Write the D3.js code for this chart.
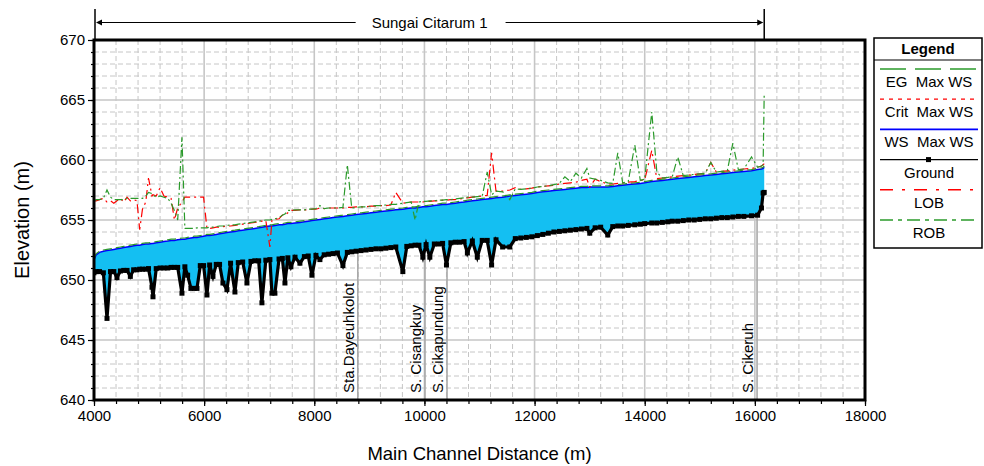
<!DOCTYPE html>
<html>
<head>
<meta charset="utf-8">
<script src="https://cdn.jsdelivr.net/npm/d3@7"></script>
<style>
  body { margin: 0; background: #fff; }
  svg { display: block; }
  text { font-family: Arial, "Liberation Sans", sans-serif; fill: #000; }
</style>
</head>
<body>
<svg id="chart" width="984" height="466"></svg>
<script>
// River stations (m) of the cross sections along Sungai Citarum, reach 1
const stations = [
  4000, 4040, 4100, 4170, 4236, 4300, 4360, 4417, 4480, 4540,
  4600, 4660, 4720, 4780, 4830, 4880, 4940, 4990, 5053, 5071,
  5130, 5200, 5270, 5340, 5400, 5460, 5520, 5597, 5650, 5700,
  5760, 5820, 5870, 5930, 5990, 6051, 6100, 6160, 6220, 6280,
  6341, 6414, 6480, 6559, 6620, 6700, 6777, 6850, 6920, 6990,
  7049, 7120, 7194, 7231, 7285, 7360, 7420, 7467, 7520, 7576,
  7650, 7739, 7820, 7890, 7957, 8030, 8102, 8180, 8260, 8340,
  8420, 8520, 8600, 8680, 8760, 8850, 8940, 9030, 9120, 9210,
  9300, 9390, 9480, 9608, 9680, 9760, 9830, 9900, 9971, 10030,
  10098, 10180, 10260, 10330, 10400, 10480, 10560, 10640, 10720, 10780,
  10870, 10960, 11050, 11140, 11220, 11300, 11420, 11550, 11650, 11750,
  11850, 11950, 12050, 12150, 12250, 12350, 12450, 12550, 12650, 12750,
  12850, 12950, 13002, 13100, 13200, 13329, 13420, 13511, 13600, 13700,
  13820, 13920, 14000, 14128, 14220, 14320, 14420, 14500, 14600, 14700,
  14800, 14900, 15000, 15100, 15200, 15300, 15400, 15500, 15600, 15700,
  15800, 15940, 16050, 16120, 16150, 16170
];

// Channel invert (Ground)
const ground = [
  650.6, 650.7, 650.7, 650.6, 646.8, 650.7, 650.7, 650.2, 650.75, 650.8,
  650.8, 650.3, 650.85, 650.85, 650.9, 650.9, 650.9, 650.95, 649.4, 648.6,
  650.95, 651.0, 651.0, 651.0, 651.05, 651.05, 651.05, 648.9, 651.1, 650.4,
  649.3, 649.3, 649.3, 651.2, 651.2, 648.75, 651.25, 650.3, 651.3, 651.3,
  649.75, 649.2, 651.4, 649.0, 651.45, 651.5, 649.75, 651.55, 651.6, 651.6,
  648.1, 651.65, 651.7, 648.9, 648.9, 651.75, 651.8, 649.75, 651.85, 651.1,
  651.9, 651.4, 651.95, 652.0, 650.4, 652.05, 651.7, 652.1, 652.15, 652.2,
  652.25, 651.2, 652.3, 652.35, 652.4, 652.45, 652.5, 652.55, 652.6, 652.6,
  652.65, 652.7, 652.75, 650.7, 652.8, 652.85, 652.9, 652.9, 651.9, 652.95,
  651.9, 653.0, 653.0, 653.05, 651.25, 653.1, 653.15, 653.15, 653.2, 652.25,
  653.25, 651.9, 653.3, 653.3, 651.25, 653.35, 652.75, 652.75, 653.45, 653.5,
  653.55, 653.6, 653.7, 653.8, 653.9, 654.0, 654.05, 654.1, 654.15, 654.2,
  654.25, 654.3, 653.9, 654.35, 654.4, 653.75, 654.45, 654.5, 654.5, 654.55,
  654.6, 654.65, 654.7, 654.75, 654.75, 654.8, 654.85, 654.9, 654.9, 654.95,
  655.0, 655.0, 655.05, 655.1, 655.1, 655.15, 655.2, 655.2, 655.25, 655.3,
  655.3, 655.35, 655.4, 656.0, 657.25, 657.3
];

// Water surface, Max WS profile
const wsMax = [
  651.7, 652.1, 652.3, 652.4, 652.45, 652.5, 652.55, 652.6, 652.65, 652.7,
  652.75, 652.8, 652.85, 652.9, 652.9, 652.95, 653.0, 653.0, 653.05, 653.05,
  653.1, 653.15, 653.2, 653.25, 653.3, 653.3, 653.35, 653.4, 653.4, 653.45,
  653.5, 653.55, 653.55, 653.6, 653.65, 653.7, 653.7, 653.75, 653.8, 653.85,
  653.9, 653.95, 654.0, 654.05, 654.1, 654.15, 654.2, 654.25, 654.3, 654.35,
  654.4, 654.45, 654.5, 654.5, 654.55, 654.6, 654.6, 654.65, 654.7, 654.7,
  654.75, 654.8, 654.85, 654.9, 654.95, 655.0, 655.05, 655.1, 655.15, 655.2,
  655.25, 655.3, 655.35, 655.4, 655.45, 655.5, 655.55, 655.6, 655.65, 655.7,
  655.75, 655.8, 655.85, 655.9, 655.95, 656.0, 656.0, 656.05, 656.1, 656.1,
  656.15, 656.2, 656.25, 656.3, 656.3, 656.35, 656.4, 656.45, 656.5, 656.55,
  656.6, 656.65, 656.7, 656.75, 656.8, 656.85, 656.9, 657.0, 657.05, 657.1,
  657.15, 657.2, 657.3, 657.35, 657.4, 657.45, 657.5, 657.55, 657.6, 657.65,
  657.7, 657.7, 657.75, 657.75, 657.75, 657.75, 657.8, 657.85, 657.9, 657.95,
  658.0, 658.05, 658.1, 658.2, 658.25, 658.3, 658.35, 658.4, 658.45, 658.5,
  658.55, 658.6, 658.65, 658.7, 658.75, 658.8, 658.85, 658.9, 658.95, 659.0,
  659.05, 659.1, 659.2, 659.25, 659.3, 659.4
];

// Energy grade, Max WS profile
const egMax = [
  651.8, 652.2, 652.4, 652.5, 652.55, 652.6, 652.65, 652.7, 652.75, 652.8,
  652.85, 652.9, 652.95, 653.0, 653.0, 653.05, 653.1, 653.1, 653.15, 653.15,
  653.2, 653.25, 653.3, 653.35, 653.4, 653.4, 653.45, 653.5, 653.5, 653.55,
  653.6, 653.65, 653.65, 653.7, 653.75, 653.8, 653.8, 653.85, 653.9, 653.95,
  654.0, 654.05, 654.1, 654.15, 654.2, 654.25, 654.3, 654.35, 654.4, 654.45,
  654.5, 654.55, 654.6, 654.6, 654.65, 654.7, 654.7, 654.75, 654.8, 654.8,
  654.85, 654.9, 654.95, 655.0, 655.05, 655.1, 655.15, 655.2, 655.25, 655.3,
  655.35, 655.4, 655.45, 655.5, 655.55, 655.6, 655.65, 655.7, 655.75, 655.8,
  655.85, 655.9, 655.95, 656.0, 656.05, 656.1, 656.1, 656.15, 656.2, 656.2,
  656.25, 656.3, 656.35, 656.4, 656.4, 656.45, 656.5, 656.55, 656.6, 656.65,
  656.7, 656.75, 656.8, 656.85, 656.9, 656.95, 657.0, 657.1, 657.15, 657.2,
  657.25, 657.3, 657.4, 657.45, 657.5, 657.55, 657.6, 657.65, 657.7, 657.75,
  657.8, 657.8, 657.85, 657.85, 657.85, 657.85, 657.9, 657.95, 658.0, 658.05,
  658.1, 658.15, 658.2, 658.3, 658.35, 658.4, 658.45, 658.5, 658.55, 658.6,
  658.65, 658.7, 658.75, 658.8, 658.85, 658.9, 658.95, 659.0, 659.05, 659.1,
  659.15, 659.2, 659.3, 659.35, 659.4, 659.5
];

// Critical water surface, Max WS profile
const critMax = [
  650.9, 651.0, 651.0, 651.0, 650.9, 651.1, 651.1, 651.1, 651.2, 651.2,
  651.2, 651.2, 651.3, 651.3, 651.3, 651.3, 651.4, 651.4, 651.3, 651.3,
  651.4, 651.4, 651.5, 651.5, 651.5, 651.5, 651.6, 651.5, 651.6, 651.5,
  651.5, 651.5, 651.5, 651.7, 651.7, 651.6, 651.8, 651.7, 651.8, 651.9,
  651.8, 651.8, 651.9, 651.9, 652.0, 652.0, 652.0, 652.1, 652.1, 652.2,
  652.1, 652.2, 652.3, 652.2, 652.2, 652.3, 652.3, 652.3, 652.4, 652.4,
  652.5, 652.5, 652.6, 652.6, 652.6, 652.7, 652.7, 652.8, 652.8, 652.9,
  652.9, 652.9, 653.0, 653.0, 653.1, 653.1, 653.2, 653.2, 653.3, 653.3,
  653.4, 653.4, 653.5, 653.3, 653.5, 653.6, 653.6, 653.6, 653.5, 653.7,
  653.6, 653.8, 653.8, 653.9, 653.7, 653.9, 654.0, 654.0, 654.1, 654.0,
  654.1, 654.0, 654.2, 654.2, 654.1, 654.3, 654.3, 654.4, 654.5, 654.5,
  654.6, 654.6, 654.7, 654.8, 654.9, 655.0, 655.0, 655.1, 655.1, 655.2,
  655.2, 655.3, 655.0, 655.3, 655.4, 655.0, 655.4, 655.5, 655.5, 655.6,
  655.6, 655.7, 655.7, 655.8, 655.8, 655.9, 655.9, 656.0, 656.0, 656.1,
  656.1, 656.2, 656.2, 656.3, 656.3, 656.4, 656.4, 656.5, 656.5, 656.6,
  656.6, 656.7, 656.7, 657.0, 657.8, 658.0
];

// Left overbank station elevation (LOB)
const lob = [
  656.6, 656.6, 656.7, 656.8, 656.5, 656.6, 656.4, 656.6, 656.8, 656.5,
  656.9, 656.6, 656.7, 656.6, 654.2, 655.9, 656.5, 658.5, 657.0, 657.1,
  657.0, 657.7, 657.0, 656.9, 656.8, 655.0, 656.0, 656.5, 656.9, 656.9,
  656.9, 656.9, 656.9, 656.9, 656.9, 654.3, 654.3, 654.35, 654.4, 654.4,
  654.45, 654.5, 654.5, 654.55, 654.6, 654.65, 654.7, 654.75, 654.8, 654.85,
  654.9, 654.95, 652.75, 655.0, 655.05, 655.1, 655.4, 655.4, 655.6, 655.8,
  655.8, 655.85, 655.85, 655.85, 655.9, 655.9, 656.0, 655.95, 656.0, 656.0,
  656.0, 656.0, 656.05, 656.05, 656.1, 656.1, 656.1, 656.15, 656.15, 656.2,
  656.2, 656.25, 657.3, 656.4, 656.45, 656.5, 656.5, 656.5, 656.5, 656.55,
  656.55, 656.6, 656.6, 656.65, 656.65, 656.7, 656.7, 656.75, 656.8, 656.85,
  656.9, 656.95, 657.0, 657.05, 660.6, 657.4, 657.4, 657.5, 657.7, 657.55,
  657.6, 657.65, 657.75, 657.8, 657.85, 657.9, 658.0, 658.05, 658.1, 658.15,
  658.3, 658.4, 657.75, 658.4, 658.2, 658.0, 658.0, 658.05, 658.1, 658.15,
  658.2, 658.3, 658.35, 660.8, 658.45, 658.5, 658.55, 658.6, 658.65, 658.7,
  658.75, 658.8, 658.85, 658.9, 659.8, 659.0, 659.05, 659.1, 659.15, 659.2,
  659.25, 659.3, 659.4, 659.5, 659.6, 659.7
];

// Right overbank station elevation (ROB)
const rob = [
  656.6, 656.7, 656.7, 656.8, 657.5, 656.9, 656.7, 656.7, 656.7, 656.7,
  656.8, 656.8, 656.8, 656.8, 656.8, 656.8, 657.0, 657.3, 657.2, 657.1,
  656.9, 657.0, 656.9, 656.8, 656.4, 655.8, 655.0, 661.9, 654.3, 654.3,
  654.3, 654.3, 654.35, 654.35, 654.35, 654.35, 654.4, 654.4, 654.45, 654.5,
  654.5, 654.55, 654.6, 654.6, 654.65, 654.7, 654.75, 654.8, 654.85, 654.9,
  654.95, 655.0, 655.0, 655.05, 655.1, 655.2, 655.4, 655.5, 655.8, 655.8,
  655.85, 655.85, 655.85, 655.9, 655.9, 655.95, 656.2, 655.95, 656.0, 656.0,
  656.0, 656.05, 659.6, 656.0, 656.05, 656.1, 656.1, 656.15, 656.2, 656.2,
  656.25, 656.3, 656.3, 656.4, 656.45, 656.5, 655.0, 656.5, 656.55, 656.55,
  656.6, 656.6, 656.65, 656.65, 656.7, 656.7, 656.75, 656.8, 656.85, 656.9,
  656.9, 656.95, 657.0, 659.0, 657.1, 657.4, 657.35, 656.7, 657.6, 657.55,
  657.6, 657.65, 657.75, 657.8, 657.85, 657.95, 658.05, 658.6, 658.2, 658.9,
  658.5, 659.3, 658.5, 658.4, 658.3, 658.1, 658.05, 660.6, 658.1, 658.2,
  661.25, 658.3, 658.4, 664.0, 659.0, 658.5, 658.55, 658.6, 660.25, 658.7,
  658.75, 658.8, 658.85, 658.9, 659.8, 659.0, 659.05, 659.1, 661.4, 659.2,
  659.25, 660.25, 659.4, 659.5, 659.6, 665.6
];

// Named structures / tributaries marked along the profile
const structureNames = ["Sta.Dayeuhkolot", "S. Cisangkuy", "S. Cikapundung", "S. Cikeruh"];
const structureStations = [8790, 10010, 10410, 16040];

// Axis ticks
const xTickValues = [4000, 6000, 8000, 10000, 12000, 14000, 16000, 18000];
const yTickValues = [640, 645, 650, 655, 660, 665, 670];

const reachName = "Sungai Citarum 1";
const xTitle = "Main Channel Distance (m)";
const yTitle = "Elevation (m)";
const legendLabels = ["EG  Max WS", "Crit  Max WS", "WS  Max WS", "Ground", "LOB", "ROB"];

// ---------------------------------------------------------------
const GREEN = "#2b9a2b", RED = "#ff0000", BLUE = "#0000ff", WATER = "#14bff2";
const svg = d3.select("#chart");
const x = d3.scaleLinear().domain([4000, 18000]).range([94, 865]);
const y = d3.scaleLinear().domain([640, 670]).range([400, 40]);
const [x0, x1] = x.range();
const [yB, yT] = y.range();

svg.append("defs").append("clipPath").attr("id", "plotClip")
  .append("rect").attr("x", x0).attr("y", yT).attr("width", x1 - x0).attr("height", yB - yT);

// Grid: dashed every 400 m / 1 m, solid every 2000 m / 5 m
const grid = svg.append("g");
const xGrid = d3.range(4400, 18000, 400);
const yGrid = d3.range(641, 670, 1);
grid.selectAll("line.gx").data(xGrid).join("line")
  .attr("x1", d => x(d)).attr("x2", d => x(d)).attr("y1", yT).attr("y2", yB)
  .attr("stroke", "#c6c6c6")
  .attr("stroke-width", d => d % 2000 === 0 ? 1.6 : 1)
  .attr("stroke-dasharray", d => d % 2000 === 0 ? null : "5,3");
grid.selectAll("line.gy").data(yGrid).join("line")
  .attr("x1", x0).attr("x2", x1).attr("y1", d => y(d)).attr("y2", d => y(d))
  .attr("stroke", "#c6c6c6")
  .attr("stroke-width", d => d % 5 === 0 ? 1.6 : 1)
  .attr("stroke-dasharray", d => d % 5 === 0 ? null : "5,3");

const idx = d3.range(stations.length);
const groundAt = s => {
  const i = d3.bisectLeft(stations, s);
  const t = (s - stations[i - 1]) / (stations[i] - stations[i - 1]);
  return ground[i - 1] + t * (ground[i] - ground[i - 1]);
};

// Structure marker lines and labels
const marks = svg.append("g");
structureStations.forEach((s, k) => {
  marks.append("line")
    .attr("x1", x(s)).attr("x2", x(s)).attr("y1", y(groundAt(s))).attr("y2", yB)
    .attr("stroke", "#a9a9a9").attr("stroke-width", 1.6);
  marks.append("text")
    .attr("transform", `translate(${x(s) - 4},${yB - 7}) rotate(-90)`)
    .attr("font-size", 15).text(structureNames[k]);
});

const plot = svg.append("g").attr("clip-path", "url(#plotClip)");
const lineOf = arr => d3.line().x(i => x(stations[i])).y(i => y(arr[i]));

// Critical WS lies inside the flow area
plot.append("path").datum(idx).attr("d", lineOf(critMax))
  .attr("fill", "none").attr("stroke", RED).attr("stroke-width", 1).attr("stroke-dasharray", "3,3");

// Water between invert and water surface
plot.append("path").datum(idx)
  .attr("d", d3.area().x(i => x(stations[i])).y0(i => y(ground[i])).y1(i => y(wsMax[i])))
  .attr("fill", WATER);

// Ground
plot.append("path").datum(idx).attr("d", lineOf(ground))
  .attr("fill", "none").attr("stroke", "#000").attr("stroke-width", 3.2).attr("stroke-linejoin", "miter");
plot.selectAll("rect.gm").data(idx).join("rect")
  .attr("x", i => x(stations[i]) - 2.5).attr("y", i => y(ground[i]) - 2.5)
  .attr("width", 5).attr("height", 5).attr("fill", "#000");

// Water surface
plot.append("path").datum(idx).attr("d", lineOf(wsMax))
  .attr("fill", "none").attr("stroke", BLUE).attr("stroke-width", 1.5);

// Energy grade
plot.append("path").datum(idx).attr("d", lineOf(egMax))
  .attr("fill", "none").attr("stroke", GREEN).attr("stroke-width", 1.2).attr("stroke-dasharray", "9,4");

// Bank stations
plot.append("path").datum(idx).attr("d", lineOf(lob))
  .attr("fill", "none").attr("stroke", RED).attr("stroke-width", 1.2).attr("stroke-dasharray", "9,4,2,4");
plot.append("path").datum(idx).attr("d", lineOf(rob))
  .attr("fill", "none").attr("stroke", GREEN).attr("stroke-width", 1.2).attr("stroke-dasharray", "8,3,2,3");

// Axes
const axX = svg.append("g").attr("transform", `translate(0,${yB})`);
axX.call(d3.axisBottom(x).tickValues(d3.range(4000, 18001, 400)).tickSize(4).tickFormat(""));
axX.append("g").call(d3.axisBottom(x).tickValues(xTickValues).tickSize(6).tickPadding(4).tickFormat(d3.format("d")));
const axY = svg.append("g").attr("transform", `translate(${x0},0)`);
axY.call(d3.axisLeft(y).tickValues(d3.range(640, 671, 1)).tickSize(3).tickFormat(""));
axY.append("g").call(d3.axisLeft(y).tickValues(yTickValues).tickSize(6).tickPadding(3).tickFormat(d3.format("d")));
svg.selectAll(".domain").remove();
svg.selectAll(".tick line").attr("stroke", "#000").attr("stroke-width", 1.2);
svg.selectAll(".tick text").attr("font-size", 15).attr("font-family", 'Arial, "Liberation Sans", sans-serif').attr("fill", "#000");

// Plot frame
svg.append("rect").attr("x", x0).attr("y", yT).attr("width", x1 - x0).attr("height", yB - yT)
  .attr("fill", "none").attr("stroke", "#000").attr("stroke-width", 3);

// Axis titles
svg.append("text").attr("x", (x0 + x1) / 2).attr("y", 460).attr("text-anchor", "middle")
  .attr("font-size", 18.5).text(xTitle);
svg.append("text").attr("transform", `translate(29,${(yT + yB) / 2}) rotate(-90)`).attr("text-anchor", "middle")
  .attr("font-size", 20).text(yTitle);

// Reach extent arrow with its name
const rA = x(stations[0]) + 1, rB = x(stations[stations.length - 1]);
const reach = svg.append("g");
reach.append("line").attr("x1", rA).attr("x2", rA).attr("y1", 9).attr("y2", yT).attr("stroke", "#000").attr("stroke-width", 1.5);
reach.append("line").attr("x1", rB).attr("x2", rB).attr("y1", 9).attr("y2", yT).attr("stroke", "#000").attr("stroke-width", 1.5);
reach.append("line").attr("x1", rA + 2).attr("x2", rB - 2).attr("y1", 22.5).attr("y2", 22.5).attr("stroke", "#000").attr("stroke-width", 1.2);
reach.append("path").attr("d", `M${rA + 1},22.5 l6,-3 v6 z`).attr("fill", "#000");
reach.append("path").attr("d", `M${rB - 1},22.5 l-6,-3 v6 z`).attr("fill", "#000");
const rt = reach.append("text").attr("x", (rA + rB) / 2).attr("y", 28).attr("text-anchor", "middle").attr("font-size", 15).text(reachName);
const rw = rt.node().getComputedTextLength();
reach.insert("rect", "text").attr("x", (rA + rB) / 2 - rw / 2 - 16).attr("y", 14).attr("width", rw + 34).attr("height", 16).attr("fill", "#fff");

// Legend
const lg = svg.append("g");
lg.append("rect").attr("x", 874).attr("y", 38).attr("width", 108).attr("height", 210)
  .attr("fill", "#fff").attr("stroke", "#000").attr("stroke-width", 1.5);
lg.append("line").attr("x1", 874).attr("x2", 982).attr("y1", 60).attr("y2", 60).attr("stroke", "#000").attr("stroke-width", 1.2);
lg.append("text").attr("x", 928).attr("y", 54).attr("text-anchor", "middle").attr("font-size", 15).attr("font-weight", "bold").text("Legend");
const legendStyles = [
  { c: GREEN, w: 1.5, d: "26,9" },
  { c: RED, w: 1.3, d: "4,5" },
  { c: BLUE, w: 1.6, d: null },
  { c: "#000", w: 1.3, d: null, m: true },
  { c: RED, w: 1.5, d: "13,9,3,9" },
  { c: GREEN, w: 1.5, d: "13,5,4,5" }
];
legendLabels.forEach((lab, k) => {
  const ly = 69 + k * 30.2;
  const st = legendStyles[k];
  lg.append("line").attr("x1", 880).attr("x2", 978).attr("y1", ly).attr("y2", ly)
    .attr("stroke", st.c).attr("stroke-width", st.w).attr("stroke-dasharray", st.d);
  if (st.m) lg.append("rect").attr("x", 926).attr("y", ly - 2.5).attr("width", 5).attr("height", 5).attr("fill", "#000");
  lg.append("text").attr("x", 929).attr("y", ly + 18).attr("text-anchor", "middle").attr("font-size", 15)
    .style("white-space", "pre").text(lab);
});
</script>
</body>
</html>
